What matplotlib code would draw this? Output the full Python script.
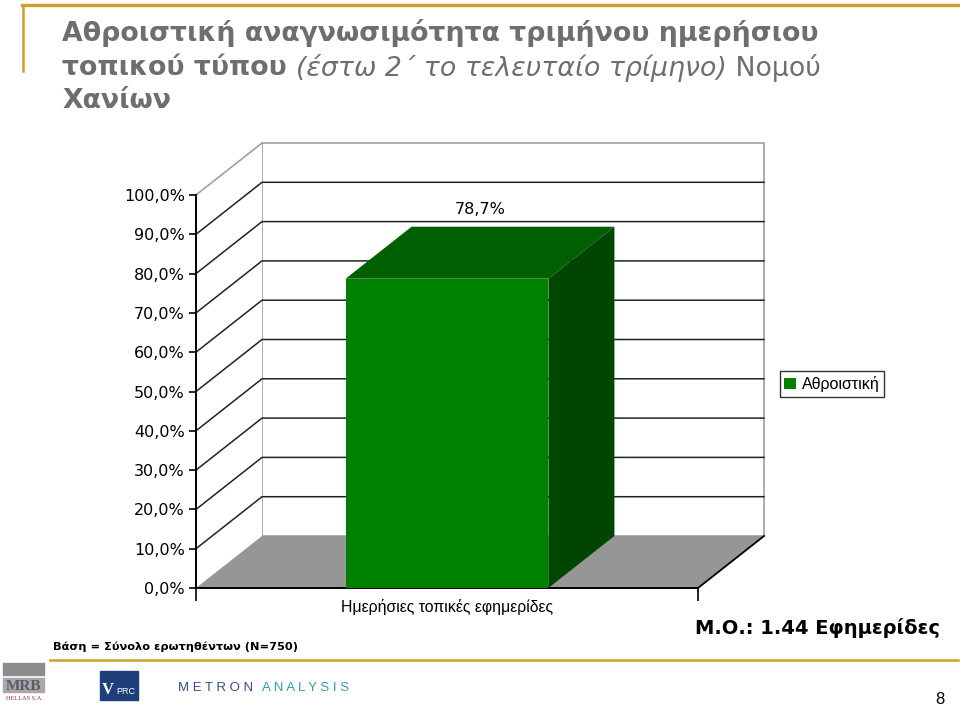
import matplotlib
matplotlib.use('Agg')
import matplotlib.pyplot as plt
from matplotlib.patches import Polygon, Rectangle

# data
categories = ['Ημερήσιες τοπικές εφημερίδες']
values = [78.7]
series_name = 'Αθροιστική'
y_ticks = [0, 10, 20, 30, 40, 50, 60, 70, 80, 90, 100]
base_note = 'Βάση = Σύνολο ερωτηθέντων (N=750)'
mean_note = 'Μ.Ο.: 1.44 Εφημερίδες'
page_no = '8'

W, H = 960, 708
GOLD = '#C9A227'
TGRAY = '#6E6E6E'


def fx(x):
    return x / W


def fy(y):
    return 1 - y / H


fig = plt.figure(figsize=(W / 100, H / 100), dpi=100)
fig.patch.set_facecolor('white')

# ---- frame lines (gold)
fig.add_artist(plt.Line2D([fx(22), fx(958)], [fy(5), fy(5)], color=GOLD, lw=2.4))
fig.add_artist(plt.Line2D([fx(23), fx(23)], [fy(5), fy(71)], color=GOLD, lw=1.8))
fig.add_artist(plt.Line2D([fx(50), fx(958)], [fy(660), fy(660)], color=GOLD, lw=1.8))

# ---- title
r = fig.canvas.get_renderer()
tsize = 19.3
fig.text(fx(62), fy(33), 'Αθροιστική αναγνωσιμότητα τριμήνου ημερήσιου',
         fontsize=tsize, fontweight='bold', color=TGRAY, va='center', ha='left')
pieces = [('τοπικού τύπου ', 'bold', 'normal'),
          ('(έστω 2΄ το τελευταίο τρίμηνο)', 'normal', 'italic'),
          (' Νομού', 'normal', 'normal')]
xpos = fx(62)
for txt, wt, st in pieces:
    t = fig.text(xpos, fy(68), txt, fontsize=tsize, fontweight=wt, fontstyle=st,
                 color=TGRAY, va='center', ha='left')
    bb = t.get_window_extent(renderer=r)
    xpos += bb.width / W
fig.text(fx(62), fy(101), 'Χανίων', fontsize=tsize, fontweight='bold',
         color=TGRAY, va='center', ha='left')

# ---- chart axes (front plane)
ax = fig.add_axes([fx(196), fy(588), (698 - 196) / W, (588 - 195) / H])
ax.set_xlim(-0.5, 0.5)
ax.set_ylim(0, 100)
ax.patch.set_visible(False)
dx = 66 / 502.0
dy = 52 / 393.0 * 100
x0, x1 = -0.5, 0.5
ytop = y_ticks[-1]

# walls
ax.add_patch(Polygon([(x0 + dx, dy), (x0 + dx, ytop + dy), (x1 + dx, ytop + dy), (x1 + dx, dy)],
                     closed=True, facecolor='white', edgecolor='#A0A0A0', lw=1.2,
                     clip_on=False, zorder=0.5))
ax.add_patch(Polygon([(x0, 0), (x0 + dx, dy), (x0 + dx, ytop + dy), (x0, ytop)],
                     closed=True, facecolor='white', edgecolor='none',
                     clip_on=False, zorder=0.5))
ax.plot([x0, x0 + dx], [ytop, ytop + dy], color='#A0A0A0', lw=1.2, clip_on=False, zorder=0.6)

# floor
ax.add_patch(Polygon([(x0, 0), (x1, 0), (x1 + dx, dy), (x0 + dx, dy)], closed=True,
                     facecolor='#969696', edgecolor='none', clip_on=False, zorder=1))
ax.plot([x1, x1 + dx], [0, dy], color='black', lw=1.3, clip_on=False, zorder=1.2)

# gridlines on walls
for v in y_ticks[1:-1]:
    ax.plot([x0, x0 + dx, x1 + dx], [v, v + dy, v + dy], color='#222222', lw=1.1,
            clip_on=False, zorder=0.8)

# bar with 3D faces
bw = 0.404
for i, v in enumerate(values):
    bx0, bx1 = i - bw / 2, i + bw / 2
    ax.bar(i, v, width=bw, color='#008000', zorder=3, label=series_name)
    ax.add_patch(Polygon([(bx0, v), (bx1, v), (bx1 + dx, v + dy), (bx0 + dx, v + dy)],
                         closed=True, facecolor='#005F00', edgecolor='none',
                         clip_on=False, zorder=3))
    ax.add_patch(Polygon([(bx1, 0), (bx1 + dx, dy), (bx1 + dx, v + dy), (bx1, v)],
                         closed=True, facecolor='#004600', edgecolor='none',
                         clip_on=False, zorder=3))
    ax.annotate(f'{v:.1f}%'.replace('.', ','), xy=(i + dx / 2, v + dy / 2), xytext=(0, 31),
                textcoords='offset points', ha='center', va='center', fontsize=11.5,
                annotation_clip=False)

# axes, ticks
for s in ['top', 'right']:
    ax.spines[s].set_visible(False)
for s in ['left', 'bottom']:
    ax.spines[s].set_color('black')
    ax.spines[s].set_linewidth(1.4)
ax.set_yticks(y_ticks)
ax.set_yticklabels([f'{v:.1f}%'.replace('.', ',') for v in y_ticks], fontsize=11.5)
ax.tick_params(axis='y', direction='out', length=5, width=1.2, pad=3)
ax.set_xticks([x0, x1])
ax.set_xticklabels(['', ''])
ax.tick_params(axis='x', which='major', direction='out', length=9, width=1.2)
ax.set_xticks(range(len(categories)), minor=True)
ax.set_xticklabels(categories, minor=True, fontsize=11.4, family='Liberation Sans')
ax.tick_params(axis='x', which='minor', length=0, pad=8)

leg = ax.legend(loc='center', bbox_to_anchor=(fx(832), fy(384)),
                bbox_transform=fig.transFigure, frameon=True, fancybox=False,
                handlelength=0.7, handleheight=0.7, handletextpad=0.4,
                borderpad=0.3, prop={'family': 'Liberation Sans', 'size': 11.5})
leg.get_frame().set_edgecolor('black')
leg.get_frame().set_linewidth(1.0)

# ---- notes
fig.text(fx(53), fy(647), base_note, fontsize=8.2, fontweight='bold', va='center', ha='left')
fig.text(fx(940), fy(628), mean_note, fontsize=14, fontweight='bold', va='center', ha='right')
fig.text(fx(945), fy(700), page_no, fontsize=12, family='Liberation Sans', va='center', ha='right')

# ---- logos
fig.add_artist(Rectangle((fx(3), fy(675)), 41 / W, 12 / H, color='#8C8C8C'))
fig.add_artist(Rectangle((fx(3), fy(692)), 41 / W, 14 / H, color='#A8A8A8'))
fig.text(fx(24), fy(686), 'MRB', fontsize=11, fontweight='bold', family='Liberation Serif',
         color='#5A5A6A', ha='center', va='center')
fig.text(fx(24), fy(698), 'HELLAS S.A.', fontsize=4.5, family='Liberation Serif',
         color='#A03040', ha='center', va='center')
fig.add_artist(Rectangle((fx(100), fy(700)), 38 / W, 29 / H, color='#1E3F7A'))
fig.text(fx(102), fy(690), 'V', fontsize=12, fontweight='bold', family='Liberation Serif',
         color='white', ha='left', va='center')
fig.text(fx(116), fy(692), 'PRC', fontsize=6.5, family='Liberation Sans', color='white',
         ha='left', va='center')
fig.text(fx(178), fy(688), 'M E T R O N', fontsize=9.5, family='Liberation Sans',
         color='#3A4A8A', ha='left', va='center')
fig.text(fx(262), fy(688), 'A N A L Y S I S', fontsize=9.5, family='Liberation Sans',
         color='#3A9AA8', ha='left', va='center')

fig.savefig('out.png', dpi=100)
